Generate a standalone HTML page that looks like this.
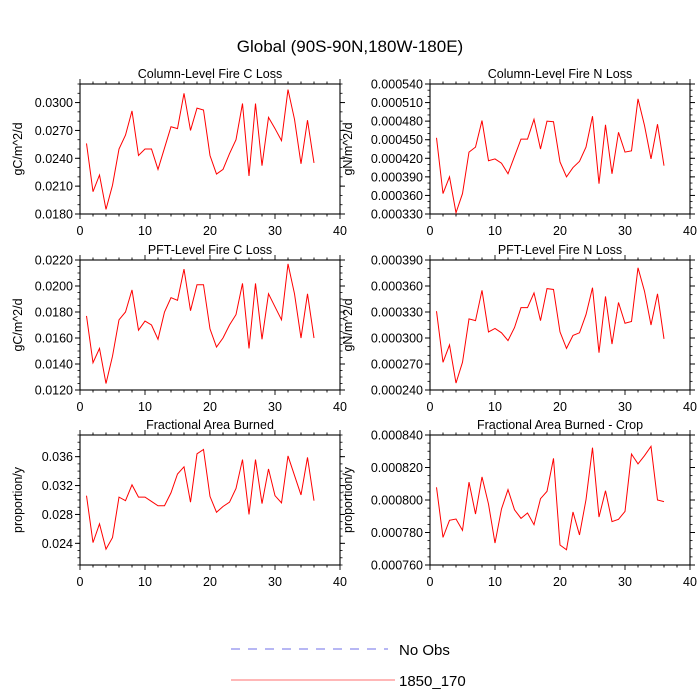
<!DOCTYPE html>
<html><head><meta charset="utf-8"><style>
html,body{margin:0;padding:0;background:#fff;}
svg{display:block;font-family:"Liberation Sans",Arial,sans-serif;}
</style></head><body>
<svg id="chart" width="700" height="700" viewBox="0 0 700 700">
<text x="350" y="52" text-anchor="middle" font-size="17">Global (90S-90N,180W-180E)</text>
<g>
<line x1="231" y1="649" x2="388" y2="649" stroke="#6f6fe8" stroke-width="1" stroke-dasharray="9,8"/>
<text x="399" y="655" font-size="15">No Obs</text>
<line x1="231" y1="680" x2="395" y2="680" stroke="#ff6f6f" stroke-width="1"/>
<text x="399" y="686" font-size="15">1850_170</text>
</g>
</svg>
<script>
const years = Array.from({length:36},(_,i)=>i+1);
const colFireC = [25.6,20.4,22.2,18.5,21.1,25.0,26.5,29.1,24.3,25.0,25.0,22.8,25.1,27.4,27.2,31.0,27.0,29.4,29.2,24.3,22.3,22.8,24.5,26.0,29.9,22.1,29.9,23.2,28.4,27.2,25.9,31.4,28.2,23.4,28.1,23.5];
const colFireN = [453,363,390,332,363,430,438,481,416,419,412,395,423,451,451,483,435,480,479,414,390,405,415,438,488,379,474,395,462,430,432,516,473,419,475,408];
const pftFireC = [17.7,14.1,15.2,12.5,14.6,17.4,18.0,19.7,16.6,17.3,17.0,15.9,18.0,19.1,18.9,21.3,18.1,20.1,20.1,16.7,15.3,16.0,17.0,17.8,20.2,15.2,20.2,15.9,19.4,18.4,17.4,21.7,19.4,16.0,19.4,16.0];
const pftFireN = [331,272,292,248,272,322,320,355,307,311,306,297,312,335,335,352,320,357,356,307,288,303,306,327,358,283,348,293,341,317,319,381,354,315,351,299];
const areaBurned = [30.6,24.1,26.7,23.2,24.8,30.4,29.9,32.1,30.4,30.4,29.8,29.2,29.2,31.0,33.6,34.6,29.7,36.4,37.0,30.5,28.3,29.1,29.7,31.6,35.6,28.0,35.6,29.5,34.3,30.6,29.6,36.1,33.4,30.7,35.9,29.9];
const areaBurnedCrop = [807.8,777,787.5,788.3,781.3,811,791.4,814.2,797.5,773.5,794.5,806.4,794,788.7,792,784.8,800.8,805.3,825.6,772.3,769.4,792.6,778.5,800.2,832.2,789.5,805.7,786.7,788.1,793,828.3,822.2,827.3,833,800,799];
const xTicks = [0,10,20,30,40];
const tickC1 = ["0.0180","0.0210","0.0240","0.0270","0.0300"];
const tickN1 = ["0.000330","0.000360","0.000390","0.000420","0.000450","0.000480","0.000510","0.000540"];
const tickC2 = ["0.0120","0.0140","0.0160","0.0180","0.0200","0.0220"];
const tickN2 = ["0.000240","0.000270","0.000300","0.000330","0.000360","0.000390"];
const tickA = ["0.024","0.028","0.032","0.036"];
const tickCrop = ["0.000760","0.000780","0.000800","0.000820","0.000840"];

const NS="http://www.w3.org/2000/svg";
const svg=document.getElementById('chart');
function mk(tag,attrs,parent){const e=document.createElementNS(NS,tag);for(const k in attrs)e.setAttribute(k,attrs[k]);parent.appendChild(e);return e;}

const panels=[
 {key:'column-fire-c',title:'Column-Level Fire C Loss',yl:'gC/m^2/d',x0:80,y0:84,data:colFireC,ymin:18,ymax:32,maj0:18,majStep:3,minStep:1,ticks:tickC1},
 {key:'column-fire-n',title:'Column-Level Fire N Loss',yl:'gN/m^2/d',x0:430,y0:84,data:colFireN,ymin:330,ymax:540,maj0:330,majStep:30,minStep:10,ticks:tickN1},
 {key:'pft-fire-c',title:'PFT-Level Fire C Loss',yl:'gC/m^2/d',x0:80,y0:260,data:pftFireC,ymin:12,ymax:22,maj0:12,majStep:2,minStep:0.5,ticks:tickC2},
 {key:'pft-fire-n',title:'PFT-Level Fire N Loss',yl:'gN/m^2/d',x0:430,y0:260,data:pftFireN,ymin:240,ymax:390,maj0:240,majStep:30,minStep:10,ticks:tickN2},
 {key:'area-burned',title:'Fractional Area Burned',yl:'proportion/y',x0:80,y0:435,data:areaBurned,ymin:21,ymax:39,maj0:24,majStep:4,minStep:1,ticks:tickA},
 {key:'area-burned-crop',title:'Fractional Area Burned - Crop',yl:'proportion/y',x0:430,y0:435,data:areaBurnedCrop,ymin:760,ymax:840,maj0:760,majStep:20,minStep:5,ticks:tickCrop}
];
const W=260,H=130;
panels.forEach(p=>{
 const g=mk('g',{},svg);
 
 
 const xs=v=>p.x0+v/40*W;
 const ys=v=>p.y0+H-(v-p.ymin)/(p.ymax-p.ymin)*H;
 const t=mk('text',{x:p.x0+W/2,y:p.y0-6,'text-anchor':'middle','font-size':12.5},g);
 t.textContent=p.title;
 
 
 const yl=mk('text',{x:0,y:0,'text-anchor':'middle','font-size':12.5,transform:`translate(${p.x0-(p.x0<200?58:78)},${p.y0+H/2}) rotate(-90)`},g);
 yl.textContent=p.yl;
 
 
 // minor y ticks
 const nMin=Math.round((p.ymax-p.ymin)/p.minStep);
 for(let i=0;i<=nMin;i++){const v=p.ymin+i*p.minStep;const y=ys(v);
  mk('line',{x1:p.x0-2.5,y1:y,x2:p.x0,y2:y,stroke:'#000','stroke-width':0.8},g);
  mk('line',{x1:p.x0+W,y1:y,x2:p.x0+W+2.5,y2:y,stroke:'#000','stroke-width':0.8},g);}
 p.ticks.forEach((lab,i)=>{const v=p.maj0+i*p.majStep;const y=ys(v);
  mk('line',{x1:p.x0-5,y1:y,x2:p.x0,y2:y,stroke:'#000','stroke-width':1},g);
  mk('line',{x1:p.x0+W,y1:y,x2:p.x0+W+5,y2:y,stroke:'#000','stroke-width':1},g);
  const tl=mk('text',{x:p.x0-7,y:y+4.5,'text-anchor':'end','font-size':12.5},g);
  tl.textContent=lab;
  
  });
 for(let v=0;v<=40;v+=2){const x=xs(v);const L=(v%10===0)?5:2.5;
  mk('line',{x1:x,y1:p.y0+H,x2:x,y2:p.y0+H+L,stroke:'#000','stroke-width':0.9},g);
  mk('line',{x1:x,y1:p.y0-L,x2:x,y2:p.y0,stroke:'#000','stroke-width':0.9},g);}
 xTicks.forEach(v=>{const tl=mk('text',{x:xs(v),y:p.y0+H+21,'text-anchor':'middle','font-size':12.5},g);
  tl.textContent=String(v);
  
  });
 const fr=mk('rect',{x:p.x0,y:p.y0,width:W,height:H,fill:'none',stroke:'#000','stroke-width':1.1},g);
 
 
 const pts=p.data.map((v,i)=>xs(years[i]).toFixed(2)+','+ys(v).toFixed(2)).join(' ');
 const ln=mk('polyline',{points:pts,fill:'none',stroke:'#ff0000','stroke-width':1},g);
 
 
});
</script>
</body></html>
